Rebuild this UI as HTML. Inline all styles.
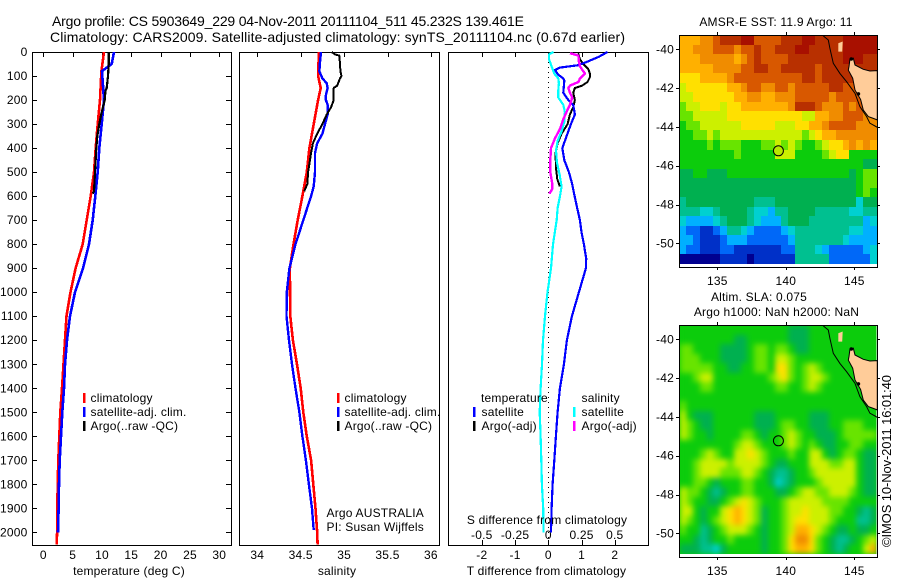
<!DOCTYPE html>
<html>
<head>
<meta charset="utf-8">
<title>Argo profile chart</title>
<style>
html,body{margin:0;padding:0;background:#fff;width:900px;height:580px;overflow:hidden}
svg{display:block}
text{font-family:"Liberation Sans",sans-serif;font-size:12px;fill:#000;letter-spacing:.2px}
.title{font-size:14px;letter-spacing:0}
.mid{text-anchor:middle}
.end{text-anchor:end}
</style>
</head>
<body>
<svg id="chart" width="900" height="580" viewBox="0 0 900 580" xmlns="http://www.w3.org/2000/svg">
<defs>
<clipPath id="clip-sst"><rect x="679" y="35" width="198" height="232"/></clipPath>
<clipPath id="clip-sla"><rect x="679" y="325" width="198" height="232"/></clipPath>
<clipPath id="clip-sla-data"><rect x="680" y="325" width="196.5" height="229"/></clipPath>
<filter id="sla-smooth" x="-5%" y="-5%" width="110%" height="110%" color-interpolation-filters="sRGB"><feGaussianBlur stdDeviation="3"/></filter>
</defs>
<text class="title" x="52" y="26" textLength="472">Argo profile: CS 5903649_229 04-Nov-2011 20111104_511 45.232S 139.461E</text>
<text class="title" x="50" y="42" textLength="575">Climatology: CARS2009. Satellite-adjusted climatology: synTS_20111104.nc (0.67d earlier)</text>
<g id="layer-marks"></g>
<text class="mid" x="129" y="575">temperature (deg C)</text>
<text class="mid" x="337" y="575">salinity</text>
<text class="mid" x="546.5" y="575">T difference from climatology</text>
<text class="mid" x="547" y="524">S difference from climatology</text>
<text x="326.5" y="517">Argo AUSTRALIA</text>
<text x="326.5" y="531">PI: Susan Wijffels</text>
<text x="90.5" y="402">climatology</text>
<text x="90.5" y="416">satellite-adj. clim.</text>
<text x="90.5" y="430">Argo(..raw -QC)</text>
<text x="344.5" y="402">climatology</text>
<text x="344.5" y="416">satellite-adj. clim.</text>
<text x="344.5" y="430">Argo(..raw -QC)</text>
<text x="481" y="402">temperature</text>
<text x="481.5" y="416">satellite</text>
<text x="481.5" y="430">Argo(-adj)</text>
<text x="581.5" y="402">salinity</text>
<text x="581.5" y="416">satellite</text>
<text x="581.5" y="430">Argo(-adj)</text>
<text class="mid" x="776" y="26">AMSR-E SST: 11.9 Argo: 11</text>
<text class="mid" x="759" y="301">Altim. SLA: 0.075</text>
<text class="mid" x="776.5" y="316">Argo h1000: NaN h2000: NaN</text>
<text transform="translate(891 547) rotate(-90)" style="font-size:13px;letter-spacing:0" textLength="172">©IMOS 10-Nov-2011 16:01:40</text>
</svg>
<script>
// ---------- profile data ----------
const tempTicks = [0, 5, 10, 15, 20, 25, 30];
const salTicks = [34, 34.5, 35, 35.5, 36];
const salTickLabels = ['34', '34.5', '35', '35.5', '36'];
const depthTicks = [0, 100, 200, 300, 400, 500, 600, 700, 800, 900, 1000, 1100, 1200, 1300, 1400, 1500, 1600, 1700, 1800, 1900, 2000];
const diffTTicks = [-2, -1, 0, 1, 2];
const diffSTicks = [-0.5, -0.25, 0, 0.25, 0.5];

const climTDepth = [0, 80, 200, 300, 400, 500, 600, 700, 800, 900, 1000, 1100, 1200, 1300, 1400, 1500, 1600, 1700, 1800, 1900, 2000, 2050];
const climTemp = [10.35, 9.9, 9.66, 9.27, 8.93, 8.64, 8.08, 7.4, 6.72, 5.5, 4.64, 3.95, 3.7, 3.45, 3.19, 2.9, 2.73, 2.56, 2.45, 2.39, 2.35, 2.28];
const satTDepth = [0, 50, 65, 80, 100, 200, 300, 400, 500, 600, 700, 800, 900, 1000, 1100, 1200, 1300, 1400, 1500, 1600, 1700, 1800, 1900, 2000];
const satTemp = [12.05, 11.65, 10.8, 10, 10.06, 10.35, 9.95, 9.55, 9.27, 8.87, 8.42, 7.79, 6.77, 5.4, 4.55, 4.04, 3.7, 3.53, 3.24, 3.02, 2.8, 2.68, 2.6, 2.5];
const argoTDepth = [0, 50, 100, 150, 160, 200, 250, 300, 350, 400, 500, 580, 590];
const argoTemp = [11.14, 11.14, 11.03, 10.8, 10.6, 10.46, 9.95, 9.55, 9.2, 9.03, 8.81, 8.64, 8.42];

const climSDepth = [0, 100, 150, 200, 300, 400, 500, 600, 700, 800, 900, 1000, 1100, 1200, 1300, 1400, 1500, 1600, 1700, 1800, 1900, 2000, 2050];
const climSal = [34.71, 34.7, 34.73, 34.7, 34.65, 34.6, 34.57, 34.52, 34.465, 34.417, 34.375, 34.377, 34.38, 34.41, 34.457, 34.5, 34.53, 34.57, 34.62, 34.645, 34.67, 34.69, 34.695];
const satSDepth = [0, 50, 80, 110, 130, 150, 180, 200, 220, 260, 300, 340, 380, 420, 500, 560, 600, 700, 800, 900, 1000, 1100, 1200, 1300, 1400, 1500, 1600, 1700, 1800, 1900, 1990];
const satSal = [34.734, 34.72, 34.715, 34.75, 34.8, 34.81, 34.79, 34.79, 34.81, 34.81, 34.78, 34.75, 34.69, 34.665, 34.665, 34.65, 34.62, 34.53, 34.44, 34.37, 34.34, 34.336, 34.365, 34.4, 34.44, 34.485, 34.52, 34.56, 34.595, 34.63, 34.65];
const argoSDepth = [0, 10, 15, 50, 80, 100, 110, 140, 150, 200, 230, 260, 300, 340, 380, 420, 500, 550, 580];
const argoSal = [34.857, 34.895, 34.945, 34.953, 34.957, 34.97, 34.953, 34.92, 34.88, 34.88, 34.85, 34.8, 34.75, 34.69, 34.64, 34.62, 34.585, 34.576, 34.54];

const diffSatTDepth = [0, 20, 40, 55, 65, 75, 95, 110, 120, 170, 200, 220, 260, 300, 350, 400, 450, 500, 550, 600, 650, 700, 750, 800, 860, 900, 1000, 1100, 1200, 1300, 1400, 1500, 1600, 1700, 1800, 1900, 2000];
const diffSatT = [1.78, 1.52, 1.18, 0.9, 0.35, 0.2, 0.3, 0.45, 0.48, 0.45, 0.6, 0.75, 0.8, 0.68, 0.55, 0.42, 0.48, 0.62, 0.72, 0.79, 0.87, 0.95, 1, 1.07, 1.14, 1.13, 0.92, 0.71, 0.56, 0.47, 0.35, 0.28, 0.23, 0.18, 0.13, 0.1, 0.08];
const diffArgoTDepth = [5, 30, 50, 70, 90, 105, 125, 140, 150, 170, 200, 230, 260, 300, 340, 380, 420, 480, 530, 560];
const diffArgoT = [0.9, 0.95, 1.05, 1.2, 1.25, 1.25, 1.18, 1.02, 0.8, 0.75, 0.8, 0.75, 0.65, 0.58, 0.4, 0.28, 0.22, 0.23, 0.27, 0.35];
const diffSatSDepth = [0, 10, 30, 60, 90, 110, 130, 160, 190, 220, 250, 290, 330, 370, 410, 460, 510, 560, 600, 650, 700, 800, 900, 1000, 1100, 1200, 1300, 1400, 1500, 1600, 1700, 1800, 1900, 2000];
const diffSatS = [0.038, 0.005, 0.005, 0.025, 0.045, 0.075, 0.08, 0.075, 0.075, 0.113, 0.125, 0.12, 0.1, 0.07, 0.058, 0.065, 0.085, 0.1, 0.088, 0.07, 0.063, 0.035, 0.02, -0.006, -0.025, -0.04, -0.047, -0.058, -0.065, -0.058, -0.053, -0.048, -0.038, -0.035];
const diffArgoSDepth = [5, 15, 40, 60, 80, 90, 110, 125, 140, 150, 170, 190, 220, 240, 280, 320, 360, 400, 450, 500, 550, 570, 590];
const diffArgoS = [0.163, 0.226, 0.23, 0.238, 0.263, 0.276, 0.238, 0.226, 0.163, 0.15, 0.163, 0.18, 0.163, 0.145, 0.113, 0.088, 0.05, 0.02, 0.015, 0.015, 0.03, 0.03, 0.008];

// ---------- map data ----------
const lonTicks = [135, 140, 145];
const latTicks = [-40, -42, -44, -46, -48, -50];
const floatLon = 139.461;
const floatLat = -45.232;
const scaleColors = ['#000090', '#0030c8', '#0068f8', '#00b0ff', '#00d0d0', '#00c090', '#00b050', '#0ccc0c', '#68e400', '#ccf000', '#ffe000', '#ffb000', '#f08c00', '#d85800', '#b83000', '#a81000'];

const sstRows = [
[11,11,11,12,12,13,14,14,14,15,15,13,13,13,13,14,14,14,15,15,14,14,14,14,15,15,15,15,15],
[11,11,12,12,12,13,13,13,12,13,13,14,13,13,14,14,14,15,15,14,14,14,14,14,15,15,15,15,15],
[11,11,11,12,12,12,12,12,11,12,13,14,13,13,13,13,14,14,14,14,14,14,14,14,15,15,15,14,14],
[11,11,11,11,11,12,12,12,12,13,13,14,14,13,13,14,14,14,14,14,13,14,14,14,14,14,14,14,14],
[10,10,10,11,11,11,11,12,13,13,13,13,13,13,13,13,13,13,14,14,13,14,14,14,14,14,14,14,14],
[9,10,10,10,10,10,10,11,11,12,13,13,12,12,13,13,12,13,13,13,13,13,14,14,13,13,13,13,13],
[9,9,10,10,10,10,10,10,11,11,12,12,11,11,12,12,12,13,13,13,13,13,12,13,13,13,13,13,13],
[8,9,9,10,10,10,9,10,10,11,11,11,11,11,11,11,12,14,14,14,13,12,12,12,13,12,13,13,13],
[8,8,9,9,9,9,9,10,10,10,10,10,10,10,10,10,10,10,9,9,11,11,12,12,13,13,13,12,12],
[7,8,8,9,9,9,9,9,9,10,10,10,10,10,9,9,9,10,10,11,11,12,13,13,13,13,12,12,12],
[7,7,8,8,9,8,9,9,9,9,9,9,9,9,9,9,9,9,8,9,10,11,11,12,12,12,12,12,12],
[7,7,7,7,8,7,8,8,8,7,7,7,8,8,9,8,9,8,7,7,8,9,10,10,11,12,11,12,11],
[7,7,7,7,7,7,7,7,8,7,7,7,7,7,9,9,9,7,7,7,7,8,9,10,10,7,7,7,7],
[7,7,7,7,7,7,7,7,7,7,7,7,7,7,7,7,7,7,7,7,7,7,7,7,7,7,7,6,6],
[6,6,7,7,6,6,6,7,7,7,7,7,7,7,7,7,7,7,7,7,7,7,7,7,7,6,7,8,8],
[6,6,6,6,6,6,6,6,6,6,6,6,6,6,6,6,6,6,6,6,6,6,6,6,6,6,7,8,8],
[6,6,6,6,6,6,6,6,6,6,6,6,6,6,6,6,6,6,6,6,6,6,6,6,6,6,7,8,7],
[5,6,6,6,6,6,6,6,6,6,6,5,5,5,6,6,6,6,6,6,6,6,6,6,6,6,4,6,6],
[5,5,5,4,4,5,6,6,6,6,5,4,4,3,5,5,6,6,6,6,5,5,5,5,5,4,4,5,5],
[4,3,3,3,3,4,5,6,6,6,5,4,3,3,3,5,6,6,6,5,5,5,5,5,5,5,5,3,4],
[3,2,2,1,1,2,3,5,5,4,3,2,2,2,2,3,4,5,5,5,5,5,5,5,5,4,4,3,3],
[3,3,2,1,1,1,2,3,3,3,2,2,2,2,2,2,3,5,5,5,5,5,5,5,4,3,3,3,3],
[3,2,2,1,1,1,2,2,1,1,1,1,1,1,1,2,2,5,5,5,4,3,2,2,2,2,2,3,4],
[0,0,0,0,0,0,1,1,1,1,0,1,1,1,1,1,1,5,5,5,5,5,2,2,2,2,2,2,4]
];

const slaRows = [
[7,7,7,7,7,7,7,7,7,7,7,7,7,7,7,7,6,6,6,7,7,7,7,7,7,7,7,7,7],
[7,7,7,7,7,7,7,7,6,6,7,7,7,7,7,7,6,6,6,7,7,7,7,7,7,7,7,7,7],
[8,8,7,7,7,7,6,6,6,6,7,8,8,7,8,8,7,6,6,7,7,7,7,7,7,7,7,7,7],
[8,8,8,7,7,7,6,6,6,6,7,8,8,7,9,9,8,7,7,7,7,7,7,7,7,7,7,7,7],
[8,8,8,8,8,7,7,6,6,7,7,8,8,7,10,10,8,7,8,9,8,7,7,7,7,7,7,7,7],
[7,7,8,9,9,7,7,7,7,7,7,7,7,8,9,10,8,7,8,9,9,8,7,7,7,7,7,7,7],
[7,7,7,8,8,7,7,7,7,7,7,7,7,7,8,8,7,7,8,9,8,7,7,7,7,7,7,7,7],
[7,7,7,7,7,7,7,7,7,7,7,7,7,7,7,7,7,7,7,7,7,7,7,7,7,7,7,7,7],
[8,7,7,7,7,7,7,7,7,7,7,7,7,7,7,7,7,7,7,7,7,7,7,7,7,7,7,7,7],
[9,7,6,6,6,7,7,7,7,7,7,6,6,6,7,7,7,7,7,6,6,6,7,7,7,7,7,7,7],
[9,8,7,6,6,7,7,7,7,7,7,6,6,6,7,8,8,7,7,6,6,6,7,7,8,8,8,7,7],
[9,8,7,7,6,7,7,7,7,8,8,7,6,7,7,8,9,8,7,7,6,6,6,7,8,8,8,8,8],
[7,7,7,7,7,7,7,7,8,9,9,8,7,7,7,8,9,8,7,8,7,6,6,7,7,8,8,7,7],
[7,7,7,8,9,8,7,7,9,9,10,9,8,7,7,7,8,7,7,9,9,7,6,7,8,8,7,6,6],
[7,7,8,9,9,9,9,8,9,9,9,9,8,7,6,6,7,7,7,9,9,9,8,8,9,9,7,6,6],
[7,7,8,9,9,9,8,8,8,9,9,8,7,6,5,5,6,7,7,8,9,9,9,9,9,9,7,6,6],
[7,7,8,8,7,6,7,7,7,8,8,7,7,6,4,5,6,7,7,7,8,9,9,9,9,9,7,6,6],
[9,8,8,7,6,5,6,7,7,8,8,7,7,7,6,6,7,8,9,9,8,8,9,9,9,8,7,6,6],
[9,8,7,7,6,6,7,8,9,10,9,8,7,7,7,8,9,9,9,9,9,8,8,8,8,7,7,7,7],
[9,9,7,6,7,7,9,10,11,10,9,8,6,7,7,8,9,9,10,9,9,9,8,8,7,7,6,5,6],
[9,8,7,6,7,8,9,10,11,10,9,8,6,7,7,8,9,10,10,9,9,9,8,7,7,7,5,5,6],
[8,7,7,5,6,7,8,9,9,9,8,7,6,7,7,8,9,11,11,10,9,8,7,6,6,7,6,6,7],
[7,7,6,5,6,7,7,8,7,7,7,7,6,7,7,8,10,12,12,10,8,7,6,5,5,6,7,8,9],
[6,6,6,5,5,4,6,7,7,7,7,7,6,7,7,8,10,11,11,10,8,7,6,5,6,7,7,9,11]
];

const shelfLon = [142.74, 143.1, 143.22, 143.47, 143.95, 144.44, 145.05, 145.41, 145.9, 146.14, 146.68];
const shelfLat = [-39.31, -39.52, -39.95, -40.72, -41.24, -41.67, -42.27, -42.96, -43.47, -43.81, -44.02];
const tasmaniaLon = [144.61, 144.68, 144.93, 145.05, 145.66, 146.14, 146.68, 146.68, 146.39, 146.02, 145.66, 145.46, 145.05, 144.88, 144.56];
const tasmaniaLat = [-40.89, -40.52, -40.46, -40.81, -41.03, -41.12, -41.1, -43.64, -43.56, -43.47, -43.13, -42.58, -42.1, -41.49, -41.07];
const kingIslandLon = [143.83, 144.15, 144.12, 143.83];
const kingIslandLat = [-39.69, -39.6, -40.12, -40.12];
const isletLon = [144.78, 145.3];
const isletLat = [-40.5, -42.3];

// ---------- axis functions ----------
const depthY = d => 52 + 0.2402 * d;
const tempX = t => 43.3 + 5.867 * t;
const salX = s => 257.3 + 86.8 * (s - 34);
const diffTX = v => 548.3 + 33.25 * v;
const diffSX = s => 548.3 + 133 * s;
const lonX = lon => 717.3 + 13.7 * (lon - 135);
const sstLatY = lat => 49.3 + 19.4 * (-40 - lat);
const slaLatY = lat => 339.3 + 19.4 * (-40 - lat);

const NS = 'http://www.w3.org/2000/svg';
const layer = document.getElementById('layer-marks');
function make(tag, attrs, parent) {
  const el = document.createElementNS(NS, tag);
  for (const k in attrs) el.setAttribute(k, attrs[k]);
  (parent || layer).appendChild(el);
  return el;
}
function hLine(x1, x2, y, name) {
  const el = make('line', {x1: x1, x2: x2, y1: Math.round(y) + 0.5, y2: Math.round(y) + 0.5, stroke: '#000', 'stroke-width': 1, 'shape-rendering': 'crispEdges'});
  
  
}
function vLine(x, y1, y2, name) {
  const el = make('line', {x1: Math.round(x) + 0.5, x2: Math.round(x) + 0.5, y1: y1, y2: y2, stroke: '#000', 'stroke-width': 1, 'shape-rendering': 'crispEdges'});
  
  
}
function label(x, y, str, anchor, name) {
  const el = make('text', {x: x, y: y, 'text-anchor': anchor});
  el.textContent = str;
  
  
}
function frame(x, y, w, h, name) {
  const el = make('rect', {x: x + 0.5, y: y + 0.5, width: w, height: h, fill: 'none', stroke: '#000', 'stroke-width': 1, 'shape-rendering': 'crispEdges'});
  
  
}
function series(depths, values, xFn, color, width, name) {
  const pts = depths.map((d, i) => xFn(values[i]).toFixed(1) + ',' + depthY(d).toFixed(1)).join(' ');
  const el = make('polyline', {points: pts, fill: 'none', stroke: color, 'stroke-width': width, 'stroke-linejoin': 'round', 'shape-rendering': 'crispEdges'});
  
  
}
function swatch(x, y, color, name) {
  const el = make('rect', {x: x, y: y, width: 2.5, height: 10, fill: color, 'shape-rendering': 'crispEdges'});
  
  
}

// ---------- profile panels ----------
frame(32, 52, 199, 493, 'temperature-panel-frame');
frame(239, 52, 200, 493, 'salinity-panel-frame');
frame(448, 52, 200, 493, 'difference-panel-frame');

depthTicks.forEach(d => {
  hLine(32, 37, depthY(d), 'depth-tick-left');
  hLine(226, 231, depthY(d), 'depth-tick-right');
  label(27.5, depthY(d) + 4, String(d), 'end', 'depth-tick-label');
});
tempTicks.forEach(t => {
  vLine(tempX(t), 52, 57, 'temperature-tick');
  label(tempX(t), 559, String(t), 'middle', 'temperature-tick-label');
});
salTicks.forEach((s, i) => {
  vLine(salX(s), 52, 57, 'salinity-tick');
  label(salX(s), 559, salTickLabels[i], 'middle', 'salinity-tick-label');
});
diffTTicks.forEach(v => {
  vLine(diffTX(v), 52, 57, 'difference-t-tick');
  label(diffTX(v), 559, String(v), 'middle', 'difference-t-tick-label');
});
diffSTicks.forEach(s => {
  vLine(diffSX(s), 540, 545, 'difference-s-tick');
  label(diffSX(s), 539, String(s), 'middle', 'difference-s-tick-label');
});

series(climTDepth, climTemp, tempX, '#ff0000', 2.6, 'climatology-temperature-line');
series(satTDepth, satTemp, tempX, '#0000ff', 2.6, 'satellite-temperature-line');
series(argoTDepth, argoTemp, tempX, '#000000', 2.2, 'argo-temperature-line');
series(climSDepth, climSal, salX, '#ff0000', 2.6, 'climatology-salinity-line');
series(satSDepth, satSal, salX, '#0000ff', 2.4, 'satellite-salinity-line');
series(argoSDepth, argoSal, salX, '#000000', 2, 'argo-salinity-line');

const zeroLine = make('line', {x1: diffTX(0), x2: diffTX(0), y1: 52, y2: 545, stroke: '#000', 'stroke-width': 1, 'stroke-dasharray': '1 4', 'shape-rendering': 'crispEdges'});



series(diffArgoTDepth, diffArgoT, diffTX, '#000000', 2, 'argo-temperature-difference-line');
series(diffSatTDepth, diffSatT, diffTX, '#0000ff', 2.2, 'satellite-temperature-difference-line');
series(diffSatSDepth, diffSatS, diffSX, '#00ffff', 2.2, 'satellite-salinity-difference-line');
series(diffArgoSDepth, diffArgoS, diffSX, '#ff00ff', 2.4, 'argo-salinity-difference-line');

swatch(83, 393, '#ff0000', 'legend-climatology-swatch');
swatch(83, 407, '#0000ff', 'legend-satellite-swatch');
swatch(83, 421, '#000000', 'legend-argo-swatch');
swatch(337, 393, '#ff0000', 'salinity-legend-climatology-swatch');
swatch(337, 407, '#0000ff', 'salinity-legend-satellite-swatch');
swatch(337, 421, '#000000', 'salinity-legend-argo-swatch');
swatch(473, 407, '#0000ff', 'diff-legend-temperature-satellite-swatch');
swatch(473, 421, '#000000', 'diff-legend-temperature-argo-swatch');
swatch(573, 407, '#00ffff', 'diff-legend-salinity-satellite-swatch');
swatch(573, 421, '#ff00ff', 'diff-legend-salinity-argo-swatch');

// ---------- maps ----------
function drawMap(rows, top, latY, clipId, prefix, markerFill, smooth) {
  const left = 679.5, dataW = 197, dataH = 229;
  const nRows = rows.length;
  let cellParent = layer;
  if (smooth) {
    const outer = make('g', {'clip-path': 'url(#' + clipId + '-data)'});
    
    
    const base = make('rect', {x: 679, y: top, width: 198, height: 232, fill: scaleColors[7]}, outer);
    
    
    cellParent = make('g', {filter: 'url(#sla-smooth)'}, outer);
    
    
  }
  rows.forEach((row, r) => {
    const nCols = row.length;
    row.forEach((val, c) => {
      const x0 = Math.round(left + dataW * c / nCols);
      const x1 = Math.round(left + dataW * (c + 1) / nCols);
      const y0 = Math.round(top + dataH * r / nRows);
      const y1 = Math.round(top + dataH * (r + 1) / nRows);
      const cell = make('rect', {x: x0, y: y0, width: x1 - x0, height: y1 - y0, fill: scaleColors[val], 'shape-rendering': 'crispEdges'}, cellParent);
      
      
    });
  });
  const pairs = (lons, lats) => lons.map((lon, i) => lonX(lon).toFixed(1) + ',' + latY(lats[i]).toFixed(1)).join(' ');
  const clip = 'url(#' + clipId + ')';
  const tas = make('polygon', {points: pairs(tasmaniaLon, tasmaniaLat), fill: '#ffcc99', stroke: '#000', 'stroke-width': 1, 'clip-path': clip});
  
  
  const king = make('polygon', {points: pairs(kingIslandLon, kingIslandLat), fill: '#ffcc99', stroke: 'none', 'clip-path': clip});
  
  
  isletLon.forEach((lon, i) => {
    const islet = make('circle', {cx: lonX(lon), cy: latY(isletLat[i]), r: 1.8, fill: '#000'});
    
    
  });
  const shelf = make('polyline', {points: pairs(shelfLon, shelfLat), fill: 'none', stroke: '#000', 'stroke-width': 1, 'clip-path': clip});
  
  
  const marker = make('circle', {cx: lonX(floatLon), cy: latY(floatLat), r: 5, fill: markerFill, stroke: '#000', 'stroke-width': 1});
  
  
  frame(679, top, 198, 232, prefix + '-map-frame');
  const bottom = top + 232;
  lonTicks.forEach(lon => {
    vLine(lonX(lon), top - 3, top, prefix + '-top-tick');
    vLine(lonX(lon), bottom, bottom + 3, prefix + '-bottom-tick');
    label(lonX(lon), bottom + 18, String(lon), 'middle', prefix + '-longitude-label');
  });
  latTicks.forEach(lat => {
    hLine(676, 679, latY(lat), prefix + '-left-tick');
    hLine(877, 880, latY(lat), prefix + '-right-tick');
    label(674, latY(lat) + 4, String(lat), 'end', prefix + '-latitude-label');
  });
}
drawMap(sstRows, 35, sstLatY, 'clip-sst', 'sst', '#b8e800', false);
drawMap(slaRows, 325, slaLatY, 'clip-sla', 'sla', 'none', true);
</script>
</body>
</html>
